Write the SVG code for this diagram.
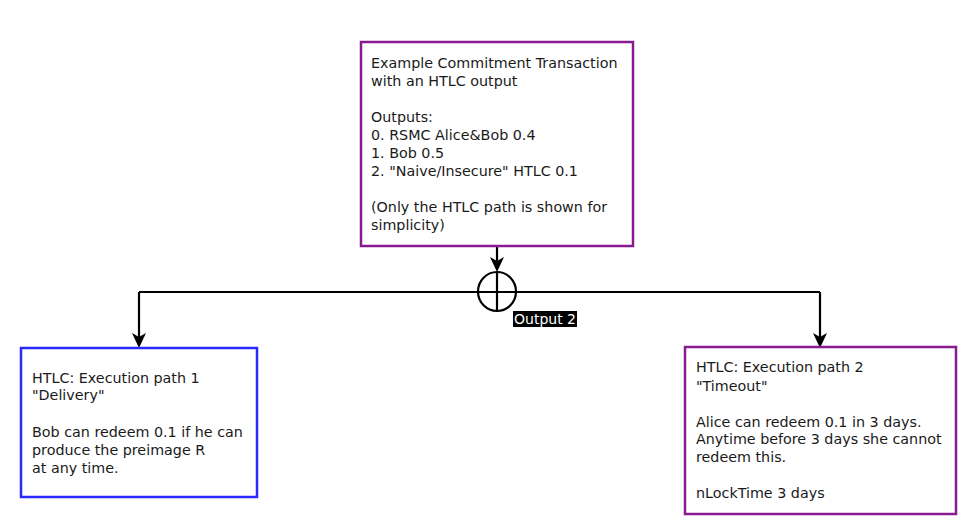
<svg xmlns="http://www.w3.org/2000/svg" width="975" height="529" viewBox="0 0 975 529">
<defs>
<style>
text{font-family:"DejaVu Sans",sans-serif;font-size:14.3px;fill:#1a1a1a}
.box{fill:#fff;stroke-width:2.5}
.purple{stroke:#8a1a8f}
.blue{stroke:#2a2aff}
.wire{fill:none;stroke:#000;stroke-width:2.2}
</style>
<marker id="ah" markerWidth="15" markerHeight="14" refX="7" refY="7" orient="auto" markerUnits="userSpaceOnUse">
<path d="M0,0 L15,7 L0,14 L4,7 Z" fill="#000"/>
</marker>
</defs>
<rect width="975" height="529" fill="#fff"/>
<g id="connectors">
<path class="wire" d="M497,246 V264" marker-end="url(#ah)"/>
<path class="wire" d="M139,292 H820"/>
<path class="wire" d="M139,292 V340" marker-end="url(#ah)"/>
<path class="wire" d="M820,292 V340" marker-end="url(#ah)"/>
<ellipse cx="497" cy="291.5" rx="19" ry="19.5" fill="none" stroke="#000" stroke-width="2.2"/>
<path class="wire" d="M497,272 V311"/>
<rect x="513" y="311" width="64" height="16" fill="#000"/>
<text x="545" y="324" text-anchor="middle" style="fill:#fff;font-size:14px">Output 2</text>
</g>
<g id="commitment">
<rect class="box purple" x="361" y="42" width="272" height="204"/>
<text x="371" y="68">Example Commitment Transaction</text>
<text x="371" y="86">with an HTLC output</text>
<text x="371" y="122">Outputs:</text>
<text x="371" y="140">0. RSMC Alice&amp;Bob 0.4</text>
<text x="371" y="158">1. Bob 0.5</text>
<text x="371" y="176">2. "Naive/Insecure" HTLC 0.1</text>
<text x="371" y="212">(Only the HTLC path is shown for</text>
<text x="371" y="230">simplicity)</text>
</g>
<g id="delivery">
<rect class="box blue" x="21" y="348" width="236" height="149"/>
<text x="32" y="383">HTLC: Execution path 1</text>
<text x="32" y="400">"Delivery"</text>
<text x="32" y="437">Bob can redeem 0.1 if he can</text>
<text x="32" y="455">produce the preimage R</text>
<text x="32" y="473">at any time.</text>
</g>
<g id="timeout">
<rect class="box purple" x="685" y="347" width="271" height="167"/>
<text x="696" y="372">HTLC: Execution path 2</text>
<text x="696" y="391">"Timeout"</text>
<text x="696" y="427">Alice can redeem 0.1 in 3 days.</text>
<text x="696" y="444">Anytime before 3 days she cannot</text>
<text x="696" y="462">redeem this.</text>
<text x="696" y="498">nLockTime 3 days</text>
</g>
</svg>
